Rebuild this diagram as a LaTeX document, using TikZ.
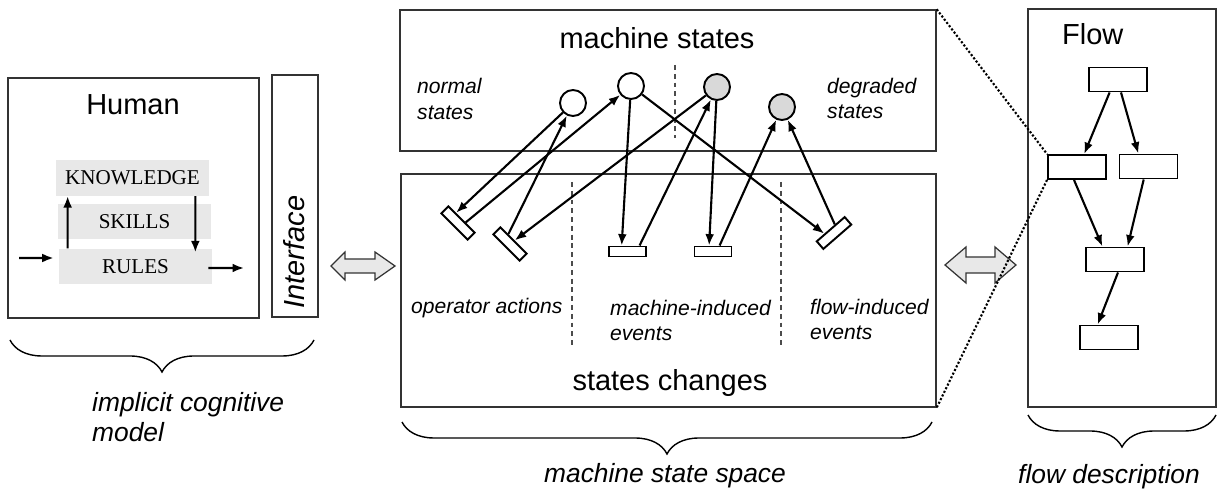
\documentclass[tikz,border=0pt]{standalone}
\usepackage{fontspec}
\setmainfont{Liberation Sans}
\newfontfamily\timesface{Liberation Serif}
\usetikzlibrary{arrows.meta,calc,fit,decorations.pathreplacing}

\definecolor{layergray}{gray}{0.91}
\definecolor{faultgray}{gray}{0.85}

\newcommand{\bigtext}{\fontsize{16.5}{19}\selectfont}
\newcommand{\captext}{\fontsize{15}{17.5}\selectfont\itshape}
\newcommand{\notetext}{\fontsize{12}{14.5}\selectfont\itshape}

\tikzset{
  panel/.style={draw=black!80, line width=0.8pt, inner sep=0pt},
  layer/.style={fill=layergray, minimum width=3.06cm, minimum height=0.71cm, inner sep=0pt,
    font=\timesface\fontsize{12}{14}\selectfont},
  state/.style={circle, draw, line width=1.1pt, minimum size=0.52cm, inner sep=0pt, fill=white},
  fault/.style={state, fill=faultgray},
  event/.style={draw, line width=1.1pt, minimum width=0.74cm, minimum height=0.2cm, inner sep=0pt},
  task/.style={draw, line width=1.1pt, minimum width=1.16cm, minimum height=0.48cm, inner sep=0pt},
  arr/.style={-{Latex[length=6.5pt,width=5pt]}, line width=1.2pt},
  divider/.style={draw=black!70, line width=0.6pt, dash pattern=on 2.8pt off 2.2pt},
  zoomline/.style={line width=1.2pt, dash pattern=on 1.2pt off 1.1pt},
  bracket/.style={decorate, decoration={brace, amplitude=0.64cm}, line width=0.8pt},
  blockarrow/.style={draw=black!80, fill=layergray, line width=0.7pt},
}

\begin{document}
\begin{tikzpicture}[x=0.02cm,y=-0.02cm]
\useasboundingbox (0,0) rectangle (1217,496);

% operator model
\node[panel, fit={(8,78) (259,318)}] (human) {};
\node[font=\bigtext] (humantitle) at (133,105) {Human};
\node[layer] (know) at (132.5,178) {KNOWLEDGE};
\node[layer] (skill) at (134.5,221.5) {SKILLS};
\node[layer] (rule) at (135.5,266.5) {RULES};
\coordinate (cue) at (19,258);
\coordinate (act) at (244,268);
\draw[arr] (cue) -- ([xshift=-0.1cm,yshift=0.17cm]rule.west);
\draw[arr] ([xshift=0.18cm]rule.north west) -- ([xshift=0.24cm]know.south west);
\draw[arr] ([xshift=-0.28cm]know.south east) -- ([xshift=-0.34cm,yshift=-0.08cm]rule.north east);
\draw[arr] ([xshift=-0.08cm,yshift=-0.03cm]rule.east) -- (act);

\node[panel, fit={(272,75) (318,317)}] (iface) {};
\node[rotate=90, font=\bigtext\itshape] (ifacetitle) at (294,252) {Interface};

\draw[blockarrow] (331,266) -- (345,252) -- (345,259) -- (375,259) -- (375,252) -- (395,266)
  -- (375,280) -- (375,273) -- (345,273) -- (345,280) -- cycle;

% machine state space
\node[panel, fit={(400,10) (936,151)}] (states) {};
\node[panel, fit={(401,174) (936,407)}] (changes) {};
\node[font=\bigtext] (statestitle) at (657,38) {machine states};
\node[font=\bigtext] (changestitle) at (670,383) {states changes};
\draw[divider] (675,65) -- (675,138);
\draw[divider] (572,182) -- (572,345);
\draw[divider] (781,182) -- (781,345);
\node[font=\notetext, align=left, anchor=west] (normal) at (411,99) {normal\\states};
\node[font=\notetext, align=left, anchor=west] (degraded) at (821,98.5) {degraded\\states};
\node[font=\notetext, anchor=west] (opnote) at (405,308) {operator actions};
\node[font=\notetext, align=left, anchor=west] (mnote) at (604,320.5) {machine-induced\\events};
\node[font=\notetext, align=left, anchor=west] (fnote) at (804,319.5) {flow-induced\\events};

\node[state] (s1) at (573,103) {};
\node[state] (s2) at (631,86) {};
\node[fault] (s3) at (717,87) {};
\node[fault] (s4) at (782,107) {};

\node[event, rotate=-45] (opA) at (458,223) {};
\node[event, rotate=-45] (opB) at (510,244) {};
\node[event] (mcA) at (627.5,251.5) {};
\node[event] (mcB) at (713,251.5) {};
\node[event, rotate=41] (flw) at (834,233) {};

\draw[arr] (s1) -- ($(opA.north west)!0.28!(opA.north east)$);
\draw[arr] ($(opA.north west)!0.63!(opA.north east)$) -- (s2);
\draw[arr] ($(opB.north west)!0.29!(opB.north east)$) -- (s1);
\draw[arr] (s3) -- ($(opB.north west)!0.52!(opB.north east)$);
\draw[arr] (s2) -- ($(mcA.north west)!0.35!(mcA.north east)$);
\draw[arr] ($(mcA.north west)!0.81!(mcA.north east)$) -- (s3);
\draw[arr] (s3) -- ($(mcB.north west)!0.40!(mcB.north east)$);
\draw[arr] ($(mcB.north west)!0.67!(mcB.north east)$) -- (s4);
\draw[arr] (s2) -- ($(flw.north west)!0.30!(flw.north east)$);
\draw[arr] ($(flw.north west)!0.66!(flw.north east)$) -- (s4);

\draw[blockarrow] (945,265) -- (966,247) -- (966,257) -- (995,257) -- (995,247) -- (1016,265)
  -- (995,283) -- (995,273) -- (966,273) -- (966,283) -- cycle;

% flow description
\node[panel, fit={(1028,9) (1216,407)}] (flow) {};
\node[font=\bigtext, anchor=west] (flowtitle) at (1056,34) {Flow};
\node[task] (f1) at (1118,79.5) {};
\node[task] (f2) at (1077,167) {};
\node[task] (f3) at (1148.5,166.5) {};
\node[task] (f4) at (1115,259.5) {};
\node[task] (f5) at (1109,337.5) {};
\draw[arr] ($(f1.south west)!0.36!(f1.south east)$) -- ($(f2.north west)!0.62!(f2.north east)$);
\draw[arr] ($(f1.south west)!0.55!(f1.south east)$) -- ($(f3.north west)!0.33!(f3.north east)$);
\draw[arr] ($(f2.south west)!0.45!(f2.south east)$) -- ($(f4.north west)!0.29!(f4.north east)$);
\draw[arr] ($(f3.south west)!0.42!(f3.south east)$) -- ($(f4.north west)!0.71!(f4.north east)$);
\draw[arr] ($(f4.south west)!0.55!(f4.south east)$) -- ($(f5.north west)!0.31!(f5.north east)$);

\draw[zoomline] (states.north east) -- (f2.north west);
\draw[zoomline] (f2.south west) -- (changes.south east);

% braces
\draw[bracket] (314,340) -- (10,340);
\draw[bracket] (932,422) -- (402,422);
\draw[bracket] (1216,415) -- (1028,415);
\node[font=\captext, align=left, anchor=west] (cogmodel) at (86,417) {implicit cognitive\\model};
\node[font=\captext] (spacecap) at (665,476) {machine state space};
\node[font=\captext] (flowcap) at (1109,477) {flow description};
\end{tikzpicture}
\end{document}
